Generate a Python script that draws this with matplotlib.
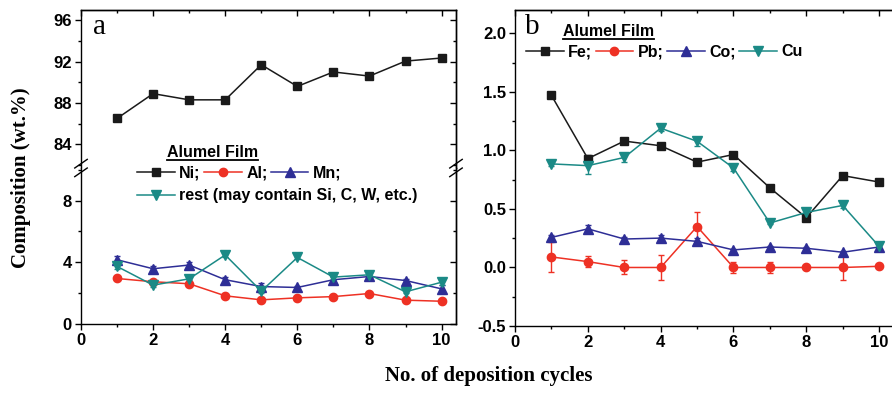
import numpy as np
import matplotlib.pyplot as plt
from matplotlib.ticker import MultipleLocator, NullFormatter
from matplotlib.lines import Line2D

### data
cycles = np.arange(1, 11)

# panel a (wt.%)
ni = [86.5, 88.9, 88.3, 88.3, 91.7, 89.6, 91.0, 90.6, 92.05, 92.35]
al = [2.96, 2.75, 2.62, 1.84, 1.58, 1.71, 1.79, 1.99, 1.56, 1.49]
al_err = [0.05, 0.05, 0.05, 0.05, 0.05, 0.05, 0.05, 0.05, 0.05, 0.05]
mn = [4.17, 3.59, 3.83, 2.88, 2.44, 2.38, 2.88, 3.09, 2.83, 2.29]
mn_err = [0.25, 0.2, 0.2, 0.2, 0.2, 0.1, 0.25, 0.25, 0.1, 0.25]
rest = [3.74, 2.53, 2.94, 4.48, 2.14, 4.32, 3.05, 3.2, 2.1, 2.72]
rest_err = [0.15, 0.1, 0.1, 0.1, 0.1, 0.1, 0.2, 0.15, 0.1, 0.15]

# panel b (wt.%)
fe = [1.47, 0.93, 1.08, 1.04, 0.90, 0.965, 0.68, 0.425, 0.785, 0.73]
fe_err = [0.01, 0.03, 0.01, 0.01, 0.01, 0.01, 0.01, 0.01, 0.01, 0.01]
pb = [0.09, 0.05, 0.0, 0.0, 0.35, 0.0, 0.0, 0.0, 0.0, 0.01]
pb_err = [0.13, 0.05, 0.06, 0.11, 0.12, 0.05, 0.05, 0.0, 0.11, 0.0]
co = [0.257, 0.33, 0.243, 0.251, 0.223, 0.15, 0.175, 0.164, 0.13, 0.175]
co_err = [0.02, 0.03, 0.02, 0.03, 0.03, 0.01, 0.01, 0.01, 0.01, 0.02]
cu = [0.885, 0.87, 0.94, 1.19, 1.078, 0.85, 0.38, 0.47, 0.53, 0.18]
cu_err = [0.02, 0.07, 0.04, 0.02, 0.04, 0.03, 0.01, 0.02, 0.02, 0.02]

BLACK = '#1a1a1a'
RED = '#ee3124'
BLUE = '#2e2e96'
TEAL = '#1b8a86'

SANS = 'Liberation Sans'
SERIF = 'Liberation Serif'
plt.rcParams['font.family'] = SANS
plt.rcParams['axes.linewidth'] = 1.0

fig = plt.figure(figsize=(8.92, 3.93), dpi=100)

ax_hi = fig.add_axes([0.0908, 0.5725, 0.4204, 0.4021])
ax_lo = fig.add_axes([0.0908, 0.1748, 0.4204, 0.3977])
ax_b = fig.add_axes([0.5774, 0.1705, 0.4306, 0.8041])

lw = 1.1
kw = dict(lw=lw, capsize=2.5, elinewidth=1.0, capthick=1.0)

ax_hi.errorbar(cycles, ni, color=BLACK, marker='s', ms=5.5, **kw)
ax_lo.errorbar(cycles, al, yerr=al_err, color=RED, marker='o', ms=6, **kw)
ax_lo.errorbar(cycles, mn, yerr=mn_err, color=BLUE, marker='^', ms=6.5, **kw)
ax_lo.errorbar(cycles, rest, yerr=rest_err, color=TEAL, marker='v', ms=6.5, **kw)

ax_b.errorbar(cycles, fe, yerr=fe_err, color=BLACK, marker='s', ms=5.5, **kw)
ax_b.errorbar(cycles, pb, yerr=pb_err, color=RED, marker='o', ms=6, **kw)
ax_b.errorbar(cycles, co, yerr=co_err, color=BLUE, marker='^', ms=6.5, **kw)
ax_b.errorbar(cycles, cu, yerr=cu_err, color=TEAL, marker='v', ms=6.5, **kw)

ax_hi.set_ylim(81.7, 97.0)
ax_lo.set_ylim(0, 10.1)
ax_b.set_ylim(-0.5, 2.2)
ax_hi.set_xlim(0, 10.4)
ax_lo.set_xlim(0, 10.4)
ax_b.set_xlim(0, 10.55)

ax_hi.yaxis.set_major_locator(MultipleLocator(4))
ax_hi.yaxis.set_minor_locator(MultipleLocator(2))
ax_lo.yaxis.set_major_locator(MultipleLocator(4))
ax_lo.yaxis.set_minor_locator(MultipleLocator(2))
ax_b.yaxis.set_major_locator(MultipleLocator(0.5))
ax_b.yaxis.set_minor_locator(MultipleLocator(0.25))
ax_b.yaxis.set_major_formatter(plt.FormatStrFormatter('%.1f'))

for ax in (ax_hi, ax_lo, ax_b):
    ax.xaxis.set_major_locator(MultipleLocator(2))
    ax.xaxis.set_minor_locator(MultipleLocator(1))
    ax.tick_params(which='both', direction='out', top=False, right=False,
                   labelsize=12, pad=2.5)
    ax.tick_params(which='major', length=4, width=1.0)
    ax.tick_params(which='minor', length=2.5, width=1.0)
    for lab in ax.get_xticklabels() + ax.get_yticklabels():
        lab.set_fontweight('bold')

# broken axis for panel a
ax_hi.spines['bottom'].set_visible(False)
ax_lo.spines['top'].set_visible(False)
ax_hi.tick_params(axis='x', which='both', bottom=False, labelbottom=False)

# inward ticks on top / right (Origin style)
def mirror_ticks(ax, top=True, right=True, ymaj=None, ymin=None):
    if top:
        sx = ax.secondary_xaxis('top')
        sx.xaxis.set_major_locator(MultipleLocator(2))
        sx.xaxis.set_minor_locator(MultipleLocator(1))
        sx.xaxis.set_major_formatter(NullFormatter())
        sx.tick_params(which='both', direction='in')
        sx.tick_params(which='major', length=4, width=1.0)
        sx.tick_params(which='minor', length=2.5, width=1.0)
    if right:
        sy = ax.secondary_yaxis('right')
        sy.yaxis.set_major_locator(MultipleLocator(ymaj))
        sy.yaxis.set_minor_locator(MultipleLocator(ymin))
        sy.yaxis.set_major_formatter(NullFormatter())
        sy.tick_params(which='both', direction='in')
        sy.tick_params(which='major', length=4, width=1.0)
        sy.tick_params(which='minor', length=2.5, width=1.0)

mirror_ticks(ax_hi, True, True, 4, 2)
mirror_ticks(ax_lo, False, True, 4, 2)
mirror_ticks(ax_b, True, True, 0.5, 0.25)

# break marks
for xa in (0, 1):
    for dy in (-0.011, 0.011):
        fig.add_artist(Line2D([0.0908 + 0.4204 * xa - 0.007, 0.0908 + 0.4204 * xa + 0.007],
                              [0.5725 + dy - 0.011, 0.5725 + dy + 0.011],
                              color='k', lw=1.0, transform=fig.transFigure))

# panel letters
fig.text(0.104, 0.932, 'a', family=SERIF, fontsize=21, va='center')
fig.text(0.588, 0.932, 'b', family=SERIF, fontsize=21, va='center')

# legends
leg_font = dict(family=SANS, weight='bold', size=11.5)
t1 = fig.text(0.1872, 0.613, 'Alumel Film', va='center', **leg_font)
t2 = fig.text(0.6312, 0.921, 'Alumel Film', va='center', **leg_font)

def handle(color, marker, ms):
    return Line2D([], [], color=color, marker=marker, ms=ms, lw=lw)

leg_kw = dict(frameon=False, borderpad=0, handlelength=2.35, handletextpad=0.3,
              columnspacing=0.2, prop=leg_font, loc='center left',
              bbox_transform=fig.transFigure, borderaxespad=0)
l1 = ax_lo.legend([handle(BLACK, 's', 5.5), handle(RED, 'o', 6), handle(BLUE, '^', 6.5)],
                  ['Ni;', 'Al;', 'Mn;'], ncol=3, bbox_to_anchor=(0.1536, 0.5598), **leg_kw)
ax_lo.add_artist(l1)
ax_lo.legend([handle(TEAL, 'v', 6.5)], ['rest (may contain Si, C, W, etc.)'],
             bbox_to_anchor=(0.1536, 0.502), **leg_kw)
ax_b.legend([handle(BLACK, 's', 5.5), handle(RED, 'o', 6), handle(BLUE, '^', 6.5),
             handle(TEAL, 'v', 6.5)], ['Fe;', 'Pb;', 'Co;', 'Cu'], ncol=4,
            bbox_to_anchor=(0.5897, 0.8677), **leg_kw)

# axis titles
fig.text(0.024, 0.548, 'Composition (wt.%)', rotation=90, ha='center', va='center',
         family=SERIF, weight='bold', fontsize=15)
fig.text(0.548, 0.043, 'No. of deposition cycles', ha='center', va='center',
         family=SERIF, weight='bold', fontsize=15)

# underline the legend titles
fig.canvas.draw()
inv = fig.transFigure.inverted()
for t in (t1, t2):
    bb = t.get_window_extent().transformed(inv)
    fig.add_artist(Line2D([bb.x0, bb.x1], [bb.y0 - 0.002] * 2, color='k', lw=1.3,
                          transform=fig.transFigure))

fig.savefig('out.png', dpi=100)
